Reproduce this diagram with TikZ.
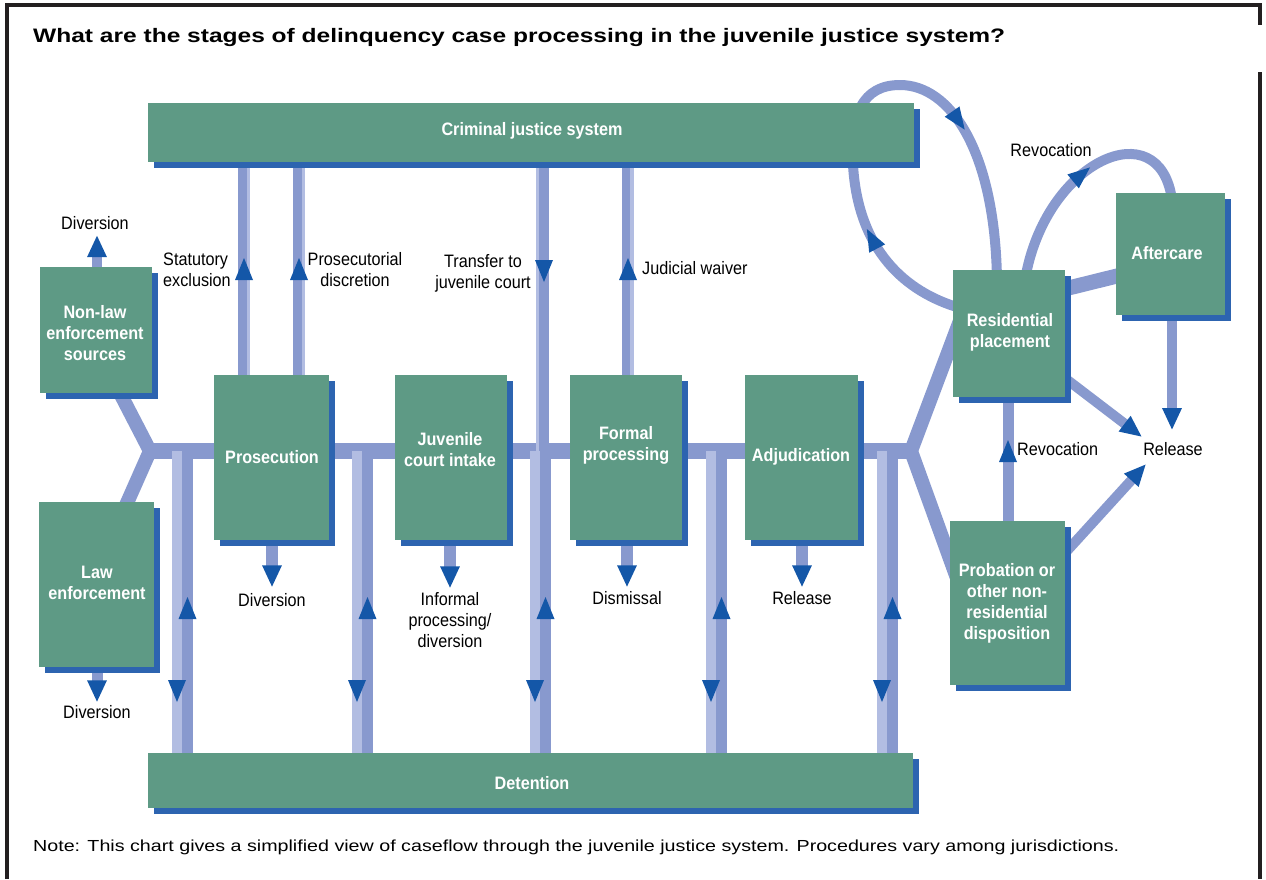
\documentclass[tikz,border=0pt]{standalone}
\usepackage{fontspec}
\setmainfont{Liberation Sans}
\usepackage{graphicx}
\usetikzlibrary{calc,shadows,decorations.markings,arrows.meta}
\pgfdeclarelayer{bg}
\pgfsetlayers{bg,main}
\definecolor{boxg}{HTML}{5E9A85}
\definecolor{shad}{HTML}{2D64B0}
\definecolor{lnc}{HTML}{8899CE}
\definecolor{lnl}{HTML}{B2BDE2}
\definecolor{arrc}{HTML}{1457A8}
\definecolor{framec}{HTML}{231F20}
\newcommand\nx[1]{\scalebox{0.9}[1]{#1}}
\newcommand\arrUp[2]{\fill[arrc] (#1,#2) -- ++(-9,22) -- ++(18,0) -- cycle;}
\newcommand\arrDn[2]{\fill[arrc] (#1,#2) -- ++(-9,-22) -- ++(18,0) -- cycle;}
\begin{document}
\begin{tikzpicture}[x=1pt,y=-1pt,
  box/.style={fill=boxg, inner sep=0pt, anchor=north west,
    drop shadow={shadow xshift=6pt, shadow yshift=-6pt, fill=shad, opacity=1}},
  wt/.style={text=white, font=\bfseries\fontsize{18}{21}\selectfont, align=center, inner sep=0pt},
  bk/.style={text=black, font=\fontsize{18}{21}\selectfont, align=center, inner sep=0pt},
  ln/.style={draw=lnc, line width=#1},
  lt/.style={draw=lnl, line width=#1},
  tipend/.style={-{Triangle[length=22pt,width=18pt,color=arrc]}},
  midtri/.style={postaction={decorate,decoration={markings,
     mark=at position #1 with {\fill[arrc] (11pt,0pt) -- (-11pt,9pt) -- (-11pt,-9pt) -- cycle;}}}}
]
\useasboundingbox (0,0) rectangle (1266,879);

% frame
\draw[framec, line width=3.5] (7,879) -- (7,5) -- (1260,5) -- (1260,25);
\draw[framec, line width=3.5] (1260,72) -- (1260,879);

% title and note
\node[anchor=base west, inner sep=0pt, font=\bfseries\fontsize{19.5}{22}\selectfont] (title) at (33,42)
  {\resizebox{972pt}{\height}{What are the stages of delinquency case processing in the juvenile justice system?}};
\node[anchor=base west, inner sep=0pt, font=\fontsize{16}{19}\selectfont] (note) at (33,851)
  {\resizebox{1086pt}{\height}{Note: This chart gives a simplified view of caseflow through the juvenile justice system. Procedures vary among jurisdictions.}};

% boxes
\node[box, minimum width=766pt, minimum height=59pt] (crim) at (148,103) {};
\node[box, minimum width=765pt, minimum height=55pt] (det) at (148,753) {};
\node[box, minimum width=112pt, minimum height=126pt] (nonlaw) at (40,267) {};
\node[box, minimum width=115pt, minimum height=165pt] (law) at (39,502) {};
\node[box, minimum width=115pt, minimum height=165pt] (pros) at (214,375) {};
\node[box, minimum width=112pt, minimum height=165pt] (intake) at (395,375) {};
\node[box, minimum width=112pt, minimum height=165pt] (formal) at (570,375) {};
\node[box, minimum width=113pt, minimum height=165pt] (adj) at (745,375) {};
\node[box, minimum width=112pt, minimum height=127pt] (resid) at (953,270) {};
\node[box, minimum width=109pt, minimum height=122pt] (after) at (1116,193) {};
\node[box, minimum width=115pt, minimum height=164pt] (prob) at (950,521) {};

% box texts
\node[wt] (crimT) at (532,131) {\nx{Criminal justice system}};
\node[wt] (detT) at (532,783) {\nx{Detention}};
\node[wt] (nonlawT) at (95,333) {\nx{Non-law}\\\nx{enforcement}\\\nx{sources}};
\node[wt] (lawT) at (97,583) {\nx{Law}\\\nx{enforcement}};
\node[wt] (prosT) at (272,457) {\nx{Prosecution}};
\node[wt] (intakeT) at (450,450) {\nx{Juvenile}\\\nx{court intake}};
\node[wt] (formalT) at (626,445) {\nx{Formal}\\\nx{processing}};
\node[wt] (adjT) at (801,457) {\nx{Adjudication}};
\node[wt] (residT) at (1010,332) {\nx{Residential}\\\nx{placement}};
\node[wt] (afterT) at (1167,253) {\nx{Aftercare}};
\node[wt] (probT) at (1007,603) {\nx{Probation or}\\\nx{other non-}\\\nx{residential}\\\nx{disposition}};

% black labels
\node[bk] (divTop) at (95,223) {\nx{Diversion}};
\node[bk, align=left, anchor=west] (stat) at (163,270) {\nx{Statutory}\\\nx{exclusion}};
\node[bk] (prosd) at (355,270) {\nx{Prosecutorial}\\\nx{discretion}};
\node[bk] (transf) at (483,273) {\nx{Transfer to}\\\nx{juvenile court}};
\node[bk, anchor=west] (jw) at (642,268) {\nx{Judicial waiver}};
\node[bk] (divPros) at (272,600) {\nx{Diversion}};
\node[bk] (informal) at (450,620) {\nx{Informal}\\\nx{processing/}\\\nx{diversion}};
\node[bk] (dism) at (627,598) {\nx{Dismissal}};
\node[bk] (rel1) at (802,598) {\nx{Release}};
\node[bk] (divLaw) at (97,712) {\nx{Diversion}};
\node[bk, anchor=west] (revoc1) at (1017,449) {\nx{Revocation}};
\node[bk] (rel2) at (1173,449) {\nx{Release}};
\node[bk] (revoc2) at (1051,150) {\nx{Revocation}};

\begin{pgfonlayer}{bg}
\coordinate (bL) at (150,451);
\coordinate (bR) at (911,451);
% main line and branches
\draw[ln=16] (bL) -- (bR);
\draw[ln=14, line join=miter] ($(nonlaw.south west)+(75,-10)$) -- (bL) -- ($(law.north west)+(84,10)$);
\draw[ln=14, line join=miter] ($(resid.north west)+(8,48)$) -- (bR) -- ($(prob.north west)+(8,60)$);

% verticals down to detention
\foreach \c [count=\i] in {182,362,540,716,887} {
  \coordinate (dv\i) at (\c,451);
  \draw[lt=10] ($(dv\i)+(-5,0)$) -- ($(det.north -| dv\i)+(-5,5)$);
  \draw[ln=11] ($(dv\i)+(5.5,0)$) -- ($(det.north -| dv\i)+(5.5,5)$);
  \arrUp{\c+5.5}{597}
  \arrDn{\c-5}{702}
}

% verticals up to criminal justice system
\coordinate (v1) at (242.5,0);
\coordinate (v2) at (297.5,0);
\coordinate (v3) at (544,0);
\coordinate (v4) at (626,0);
\draw[ln=9.5] (pros.north -| v1) -- (crim.south -| v1);
\draw[lt=3] ($(pros.north -| v1)+(6,0)$) -- ($(crim.south -| v1)+(6,0)$);
\draw[ln=9.5] (pros.north -| v2) -- (crim.south -| v2);
\draw[lt=3] ($(pros.north -| v2)+(6,0)$) -- ($(crim.south -| v2)+(6,0)$);
\draw[ln=10] (crim.south -| v3) -- (dv3 -| v3);
\draw[lt=3] ($(crim.south -| v3)+(-6.5,0)$) -- ($(dv3 -| v3)+(-6.5,0)$);
\draw[ln=9] (formal.north -| v4) -- (crim.south -| v4);
\draw[lt=3.5] ($(formal.north -| v4)+(6,0)$) -- ($(crim.south -| v4)+(6,0)$);
\arrUp{244}{258}
\arrUp{299}{258}
\arrDn{544}{282}
\arrUp{628}{258}

% short exits
\draw[ln=10, tipend] ($(nonlaw.north west)+(57,1)$) -- ($(nonlaw.north west)+(57,-32)$);
\draw[ln=11, tipend] ($(law.south west)+(58,-1)$) -- ($(law.south west)+(58,35)$);
\draw[ln=12, tipend] ($(pros.south west)+(58,-1)$) -- ($(pros.south west)+(58,47)$);
\draw[ln=12, tipend] ($(intake.south west)+(55,-1)$) -- ($(intake.south west)+(55,48)$);
\draw[ln=12, tipend] ($(formal.south west)+(57,-1)$) -- ($(formal.south west)+(57,47)$);
\draw[ln=12, tipend] ($(adj.south west)+(57,-1)$) -- ($(adj.south west)+(57,47)$);

% right side
\draw[ln=15] ($(resid.north east)+(-5,20)$) -- ($(after.north west)+(5,82)$);
\draw[ln=11] ($(prob.north west)+(58,2)$) -- ($(resid.south west)+(55,-2)$);
\arrUp{1008}{440}
\draw[ln=10, tipend] ($(after.south west)+(56,-1)$) -- ($(rel2.north)+(-1,-12)$);
\draw[ln=10, tipend] ($(resid.south east)+(-4,-22)$) -- ($(rel2.west)+(-1,-12)$);
\draw[ln=10, tipend] ($(prob.north east)+(-4,36)$) -- ($(rel2.west)+(3,15)$);

% loop between residential placement and criminal justice system
\draw[ln=10, midtri=0.6] ($(resid.north west)+(7,38)$) .. controls (905,292) and (858,250) .. (853,165);
\draw[ln=10] (853,165) .. controls (850,115) and (862,85) .. (900,85);
\draw[ln=10, midtri=0.3] (900,85) .. controls (950,85) and (995,150) .. ($(resid.north west)+(44,10)$);

% revocation loop between residential placement and aftercare
\draw[ln=10, midtri=0.5] ($(resid.north west)+(72,10)$) .. controls (1045,160) and (1160,110) .. ($(after.north west)+(56,7)$);
\end{pgfonlayer}
\end{tikzpicture}
\end{document}
